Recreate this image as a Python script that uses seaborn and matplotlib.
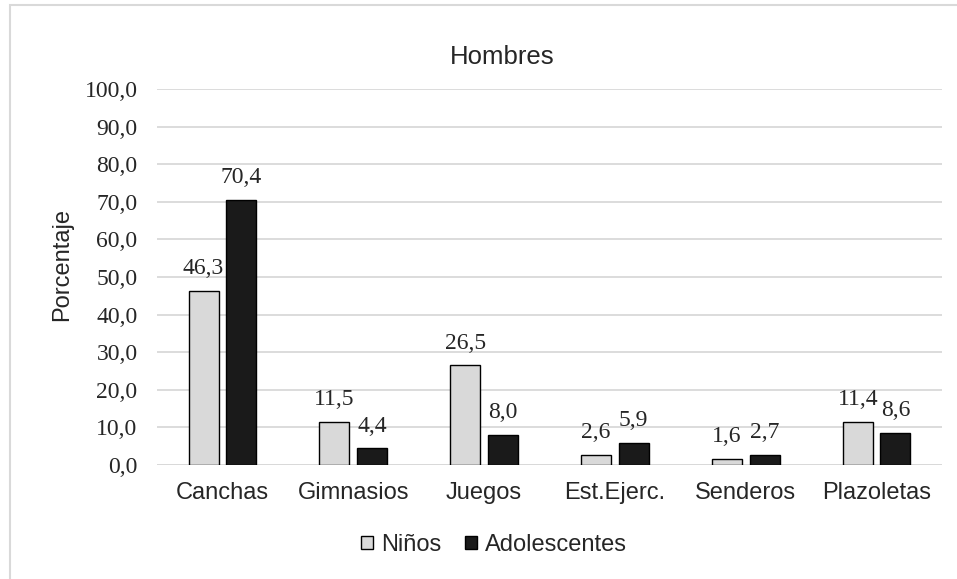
import matplotlib
matplotlib.use("Agg")
import matplotlib.pyplot as plt
import seaborn as sns
import pandas as pd
from matplotlib.patches import Rectangle

categorias = ["Canchas", "Gimnasios", "Juegos", "Est.Ejerc.", "Senderos", "Plazoletas"]
ninos = [46.3, 11.5, 26.5, 2.6, 1.6, 11.4]
adolescentes = [70.4, 4.4, 8.0, 5.9, 2.7, 8.6]
grupos = ["Niños", "Adolescentes"]
colores = ["#d9d9d9", "#1a1a1a"]
ticks_y = [0, 10, 20, 30, 40, 50, 60, 70, 80, 90, 100]

df = pd.DataFrame({
    "Lugar": categorias * 2,
    "Grupo": [grupos[0]] * len(categorias) + [grupos[1]] * len(categorias),
    "Valor": ninos + adolescentes,
})

sns.set_style("white")
serif = ["Liberation Serif", "DejaVu Serif"]
sans = ["Liberation Sans", "DejaVu Sans"]
plt.rcParams["font.family"] = sans

W, H = 957, 579
fig = plt.figure(figsize=(W / 100, H / 100), dpi=100)
ax = fig.add_axes([157 / W, 1 - 465 / H, (942 - 157) / W, (465 - 89) / H])

sns.barplot(data=df, x="Lugar", y="Valor", hue="Grupo", order=categorias,
            hue_order=grupos, palette=colores, width=0.575, gap=0.2,
            edgecolor="black", linewidth=1.0, saturation=1, ax=ax, zorder=3)

ax.set_ylim(0, 100)
ax.set_xlim(-0.5, len(categorias) - 0.5)
ax.set_yticks(ticks_y)
ax.set_yticklabels([f"{t:.1f}".replace(".", ",") for t in ticks_y],
                   fontfamily=serif, fontsize=17)
ax.tick_params(axis="y", length=0, pad=14)
ax.tick_params(axis="x", length=0, pad=12, labelsize=17)
for lbl in ax.get_xticklabels():
    lbl.set_fontfamily(sans)
ax.yaxis.grid(True, color="#d9d9d9", linewidth=1.3, zorder=0)
ax.set_axisbelow(True)
for s in ax.spines.values():
    s.set_visible(False)
ax.axhline(0, color="#d9d9d9", linewidth=1.3, zorder=1)

ax.set_xlabel("")
ax.set_ylabel("")
fig.text(62 / W, 1 - 265 / H, "Porcentaje", rotation=90, ha="center", va="center",
         fontsize=17, fontfamily=sans)
fig.text(502 / W, 1 - 57 / H, "Hombres", ha="center", va="center",
         fontsize=18.5, fontfamily=sans)

for cont in ax.containers:
    ax.bar_label(cont, labels=[f"{v:.1f}".replace(".", ",") for v in cont.datavalues],
                 padding=8.5, fontsize=17, fontfamily=serif)

ax.legend_.remove()
handles, labels = ax.get_legend_handles_labels()
fig.legend(handles, labels, loc="center", bbox_to_anchor=(494 / W, 1 - 545 / H),
           ncol=2, frameon=False, fontsize=17, handlelength=0.5, handleheight=0.5,
           handletextpad=0.35, columnspacing=1.0, borderpad=0, borderaxespad=0)

fig.patches.append(Rectangle((10 / W, -0.1), 1.2, 1 - 5 / H + 0.1,
                             transform=fig.transFigure, fill=False,
                             edgecolor="#d9d9d9", linewidth=1.5))

fig.savefig("out.png", dpi=100)
